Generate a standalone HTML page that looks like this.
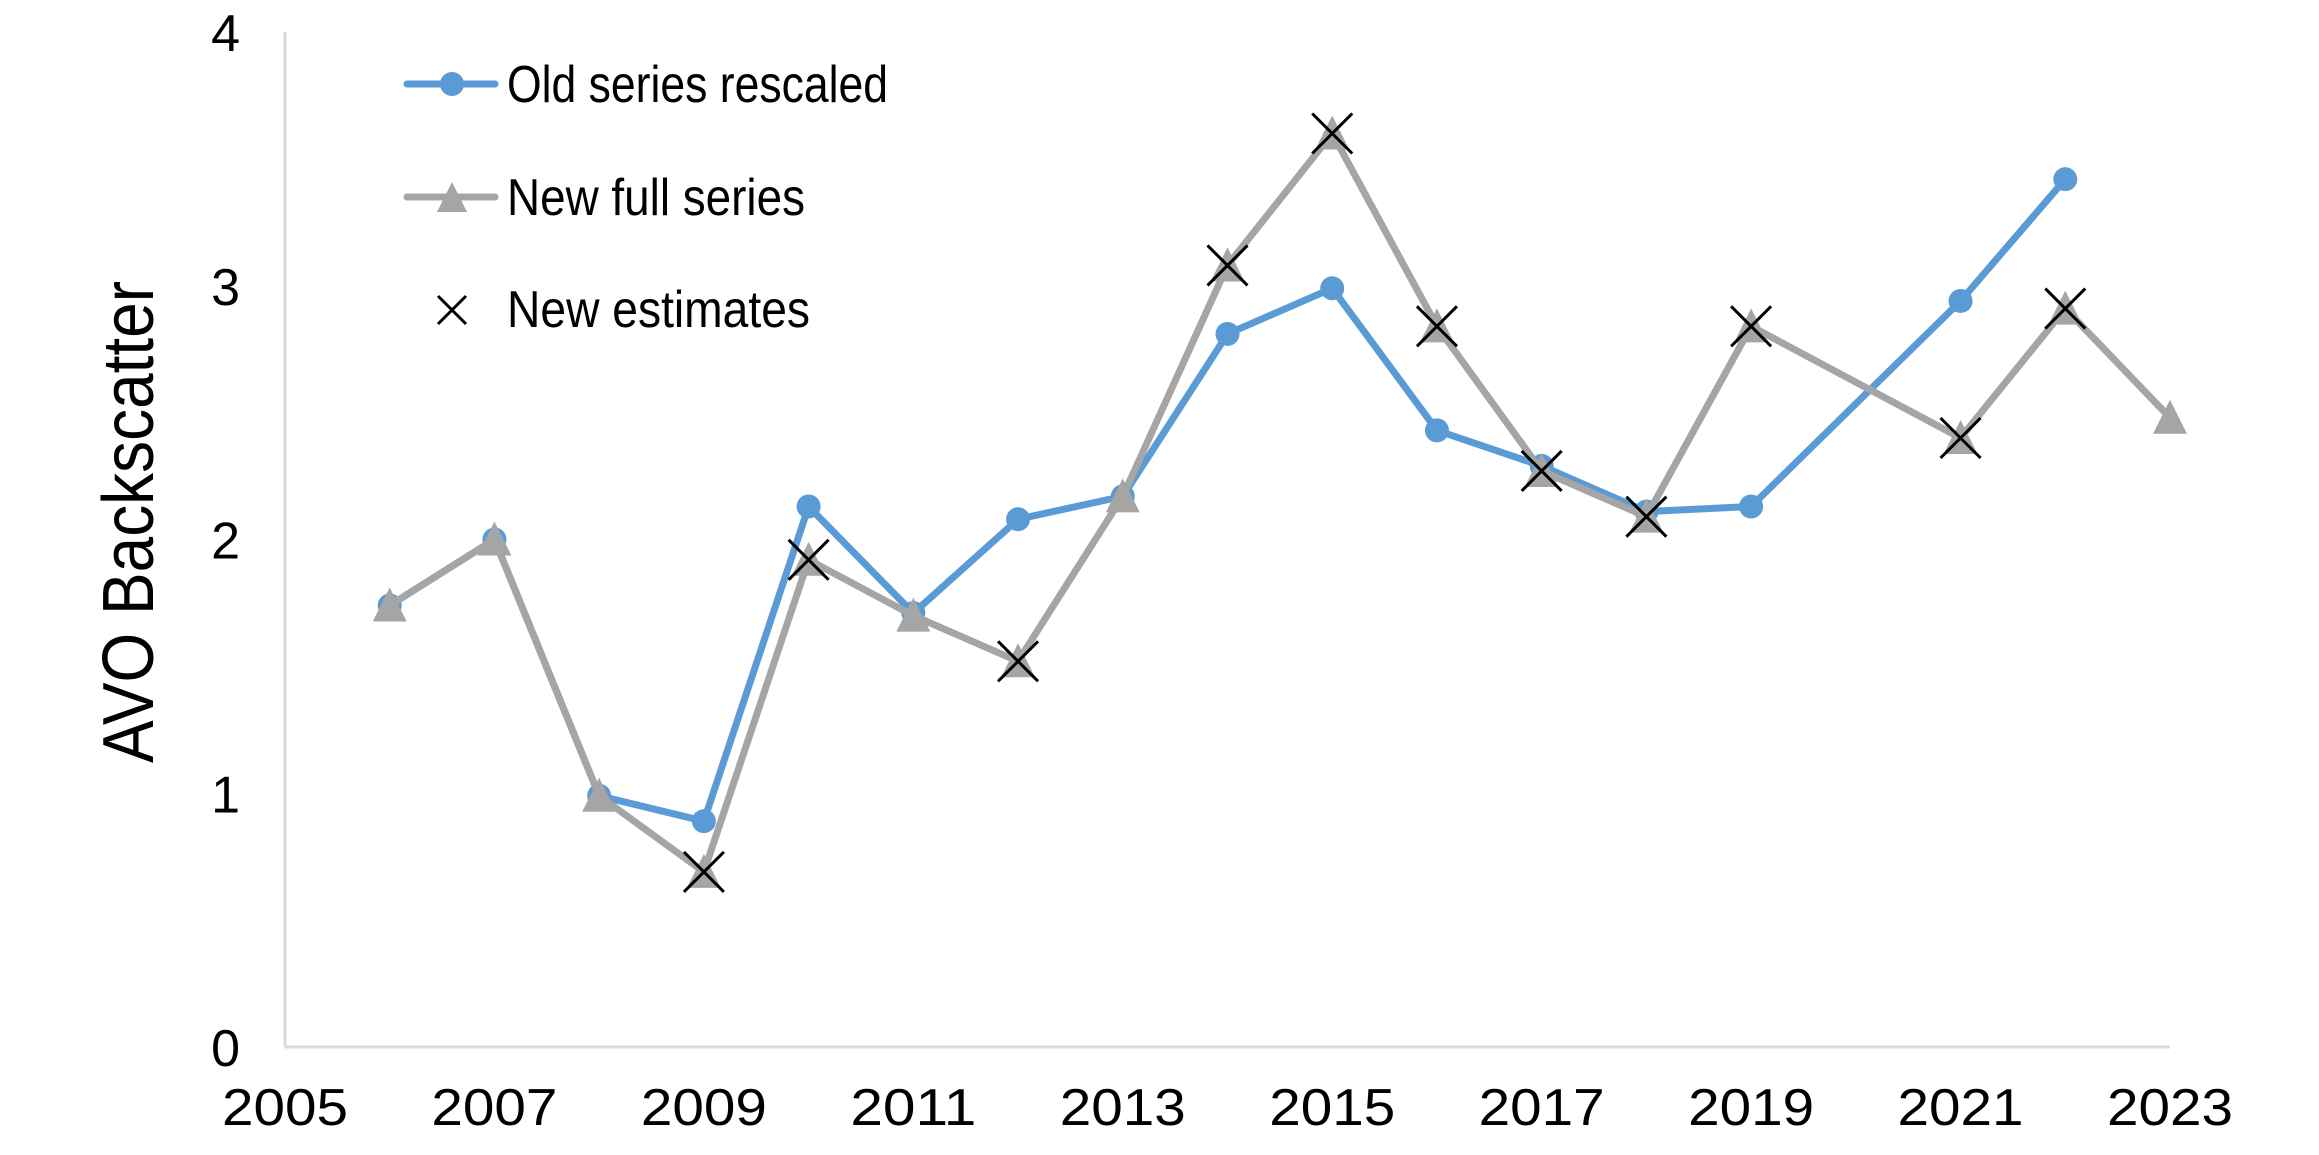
<!DOCTYPE html>
<html><head><meta charset="utf-8"><style>
html,body{margin:0;padding:0;background:#fff;}
svg{display:block;font-family:"Liberation Sans",sans-serif;}
</style></head><body>
<svg id="chart" width="2319" height="1155" viewBox="0 0 2319 1155" xmlns="http://www.w3.org/2000/svg">
<g id="axes"></g>
<g id="series"></g>
<text x="0" y="0" transform="translate(153,522) rotate(-90)" text-anchor="middle" font-size="72" textLength="482" lengthAdjust="spacingAndGlyphs">AVO Backscatter</text>
<g>
<g>
<line x1="407" y1="84" x2="495" y2="84" stroke="#5b9bd5" stroke-width="7" stroke-linecap="round"/>
<circle cx="452" cy="84" r="12" fill="#5b9bd5"/>
<text x="507" y="102" font-size="52" textLength="381" lengthAdjust="spacingAndGlyphs">Old series rescaled</text></g>
<g>
<line x1="407" y1="197" x2="495" y2="197" stroke="#a5a5a5" stroke-width="7" stroke-linecap="round"/>
<polygon points="452,182 437,212 467,212" fill="#a5a5a5"/>
<text x="507" y="215" font-size="52" textLength="298" lengthAdjust="spacingAndGlyphs">New full series</text></g>
<g>
<path d="M438 296 L466 324 M466 296 L438 324" stroke="#000" stroke-width="3"/>
<text x="507" y="327" font-size="52" textLength="303" lengthAdjust="spacingAndGlyphs">New estimates</text></g>
</g>
</svg>
<script>
const xTicks=[2005,2007,2009,2011,2013,2015,2017,2019,2021,2023];
const yTicks=[0,1,2,3,4];
const oldYears=[2006,2007,2008,2009,2010,2011,2012,2013,2014,2015,2016,2017,2018,2019,2021,2022];
const oldValues=[1.74,2.0,0.99,0.89,2.13,1.71,2.08,2.17,2.81,2.99,2.43,2.29,2.11,2.13,2.94,3.42];
const newYears=[2006,2007,2008,2009,2010,2011,2012,2013,2014,2015,2016,2017,2018,2019,2021,2022,2023];
const newValues=[1.74,2.0,0.99,0.69,1.92,1.70,1.52,2.17,3.08,3.60,2.84,2.27,2.09,2.84,2.40,2.91,2.48];
const estYears=[2009,2010,2012,2014,2015,2016,2017,2018,2019,2021,2022];
const estValues=[0.69,1.92,1.52,3.08,3.60,2.84,2.27,2.09,2.84,2.40,2.91];

const NS="http://www.w3.org/2000/svg";
const X=y=>285+(y-2005)*(2170-285)/18;
const Y=v=>1047-v*(1047-32)/4;
function mk(tag,attrs,parent){const e=document.createElementNS(NS,tag);for(const k in attrs)e.setAttribute(k,attrs[k]);parent.appendChild(e);return e;}
const axes=document.getElementById('axes'),ser=document.getElementById('series');
let a=mk('line',{x1:X(2005),y1:Y(0),x2:X(2023),y2:Y(0),stroke:'#d9d9d9','stroke-width':3},axes);


a=mk('line',{x1:X(2005),y1:Y(0),x2:X(2005),y2:Y(4),stroke:'#d9d9d9','stroke-width':3},axes);


xTicks.forEach(t=>{const e=mk('text',{x:X(t),y:1125,'text-anchor':'middle','font-size':52,textLength:126,lengthAdjust:'spacingAndGlyphs'},axes);e.textContent=t;

});
yTicks.forEach(t=>{const e=mk('text',{x:240,y:Y(t)+19,'text-anchor':'end','font-size':52},axes);e.textContent=t;

});
function pts(xs,vs){return xs.map((x,i)=>X(x)+','+Y(vs[i])).join(' ');}
let l=mk('polyline',{points:pts(oldYears,oldValues),fill:'none',stroke:'#5b9bd5','stroke-width':7,'stroke-linejoin':'round'},ser);


oldYears.forEach((yr,i)=>{const c=mk('circle',{cx:X(yr),cy:Y(oldValues[i]),r:12,fill:'#5b9bd5'},ser);

});
l=mk('polyline',{points:pts(newYears,newValues),fill:'none',stroke:'#a5a5a5','stroke-width':7,'stroke-linejoin':'round'},ser);


newYears.forEach((yr,i)=>{const x=X(yr),y=Y(newValues[i]);const p=mk('polygon',{points:`${x},${y-18} ${x-17},${y+16} ${x+17},${y+16}`,fill:'#a5a5a5'},ser);

});
estYears.forEach((yr,i)=>{const x=X(yr),y=Y(estValues[i]),s=20;const p=mk('path',{d:`M${x-s} ${y-s} L${x+s} ${y+s} M${x+s} ${y-s} L${x-s} ${y+s}`,stroke:'#000','stroke-width':3},ser);

});
</script>
</body></html>
